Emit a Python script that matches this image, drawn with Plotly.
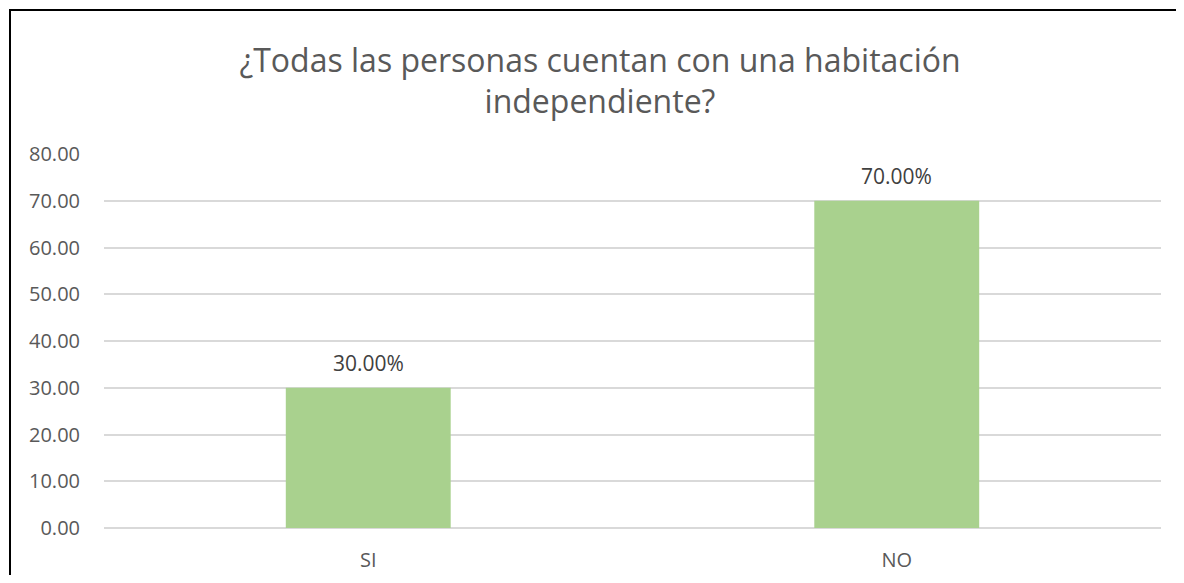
import plotly.graph_objects as go

categories = ["SI", "NO"]
values = [30.0, 70.0]
labels = ["30.00%", "70.00%"]
title_text = "¿Todas las personas cuentan con una habitación<br>independiente?"

# the page has an 8px body margin on every side; size the figure so the
# document is exactly the 1184x583 window
W, H = 1168, 567
L, R, T, B = 96, 15, 146, 47
pw, ph = W - L - R, H - T - B

fig = go.Figure()
fig.add_trace(go.Bar(
    x=categories, y=values,
    marker=dict(color="#A9D18E", line=dict(width=0)),
    width=0.312,
    hoverinfo="skip",
))

for c, v, t in zip(categories, values, labels):
    fig.add_annotation(x=c, y=v, text=t, showarrow=False, yshift=25,
                       font=dict(family="Open Sans", size=21, color="#404040"))

def px_x(p):
    return (p - L) / pw

def px_y(p):
    return (H - B - p) / ph

# outer frame: only the top and left edges are visible in the reference
fig.add_shape(type="line", xref="paper", yref="paper",
              x0=px_x(1), x1=px_x(W), y0=px_y(2), y1=px_y(2),
              line=dict(color="black", width=2), layer="above")
fig.add_shape(type="line", xref="paper", yref="paper",
              x0=px_x(2), x1=px_x(2), y0=px_y(1), y1=px_y(H),
              line=dict(color="black", width=2), layer="above")

fig.update_layout(
    width=W, height=H,
    margin=dict(l=L, r=R, t=T, b=B, autoexpand=False),
    paper_bgcolor="white", plot_bgcolor="white",
    showlegend=False,
    title=dict(text=title_text, x=592 / W, xanchor="center", xref="container",
               y=1 - 63.5 / H, yanchor="middle", yref="container",
               font=dict(family="Open Sans", size=32, color="#595959")),
    font=dict(family="Open Sans", color="#595959", size=20),
    xaxis=dict(showgrid=False, showline=False, ticks="", automargin=False,
               tickfont=dict(size=20, color="#595959"), ticklabelstandoff=18),
    yaxis=dict(range=[0, 80], dtick=10, tickformat=".2f", showgrid=True, automargin=False,
               gridcolor="#D9D9D9", gridwidth=1.5, zeroline=True, zerolinecolor="#D9D9D9",
               zerolinewidth=1.5, showline=False, ticks="",
               tickfont=dict(size=20, color="#595959"), ticklabelstandoff=23),
)

fig.write_html("out.html")
